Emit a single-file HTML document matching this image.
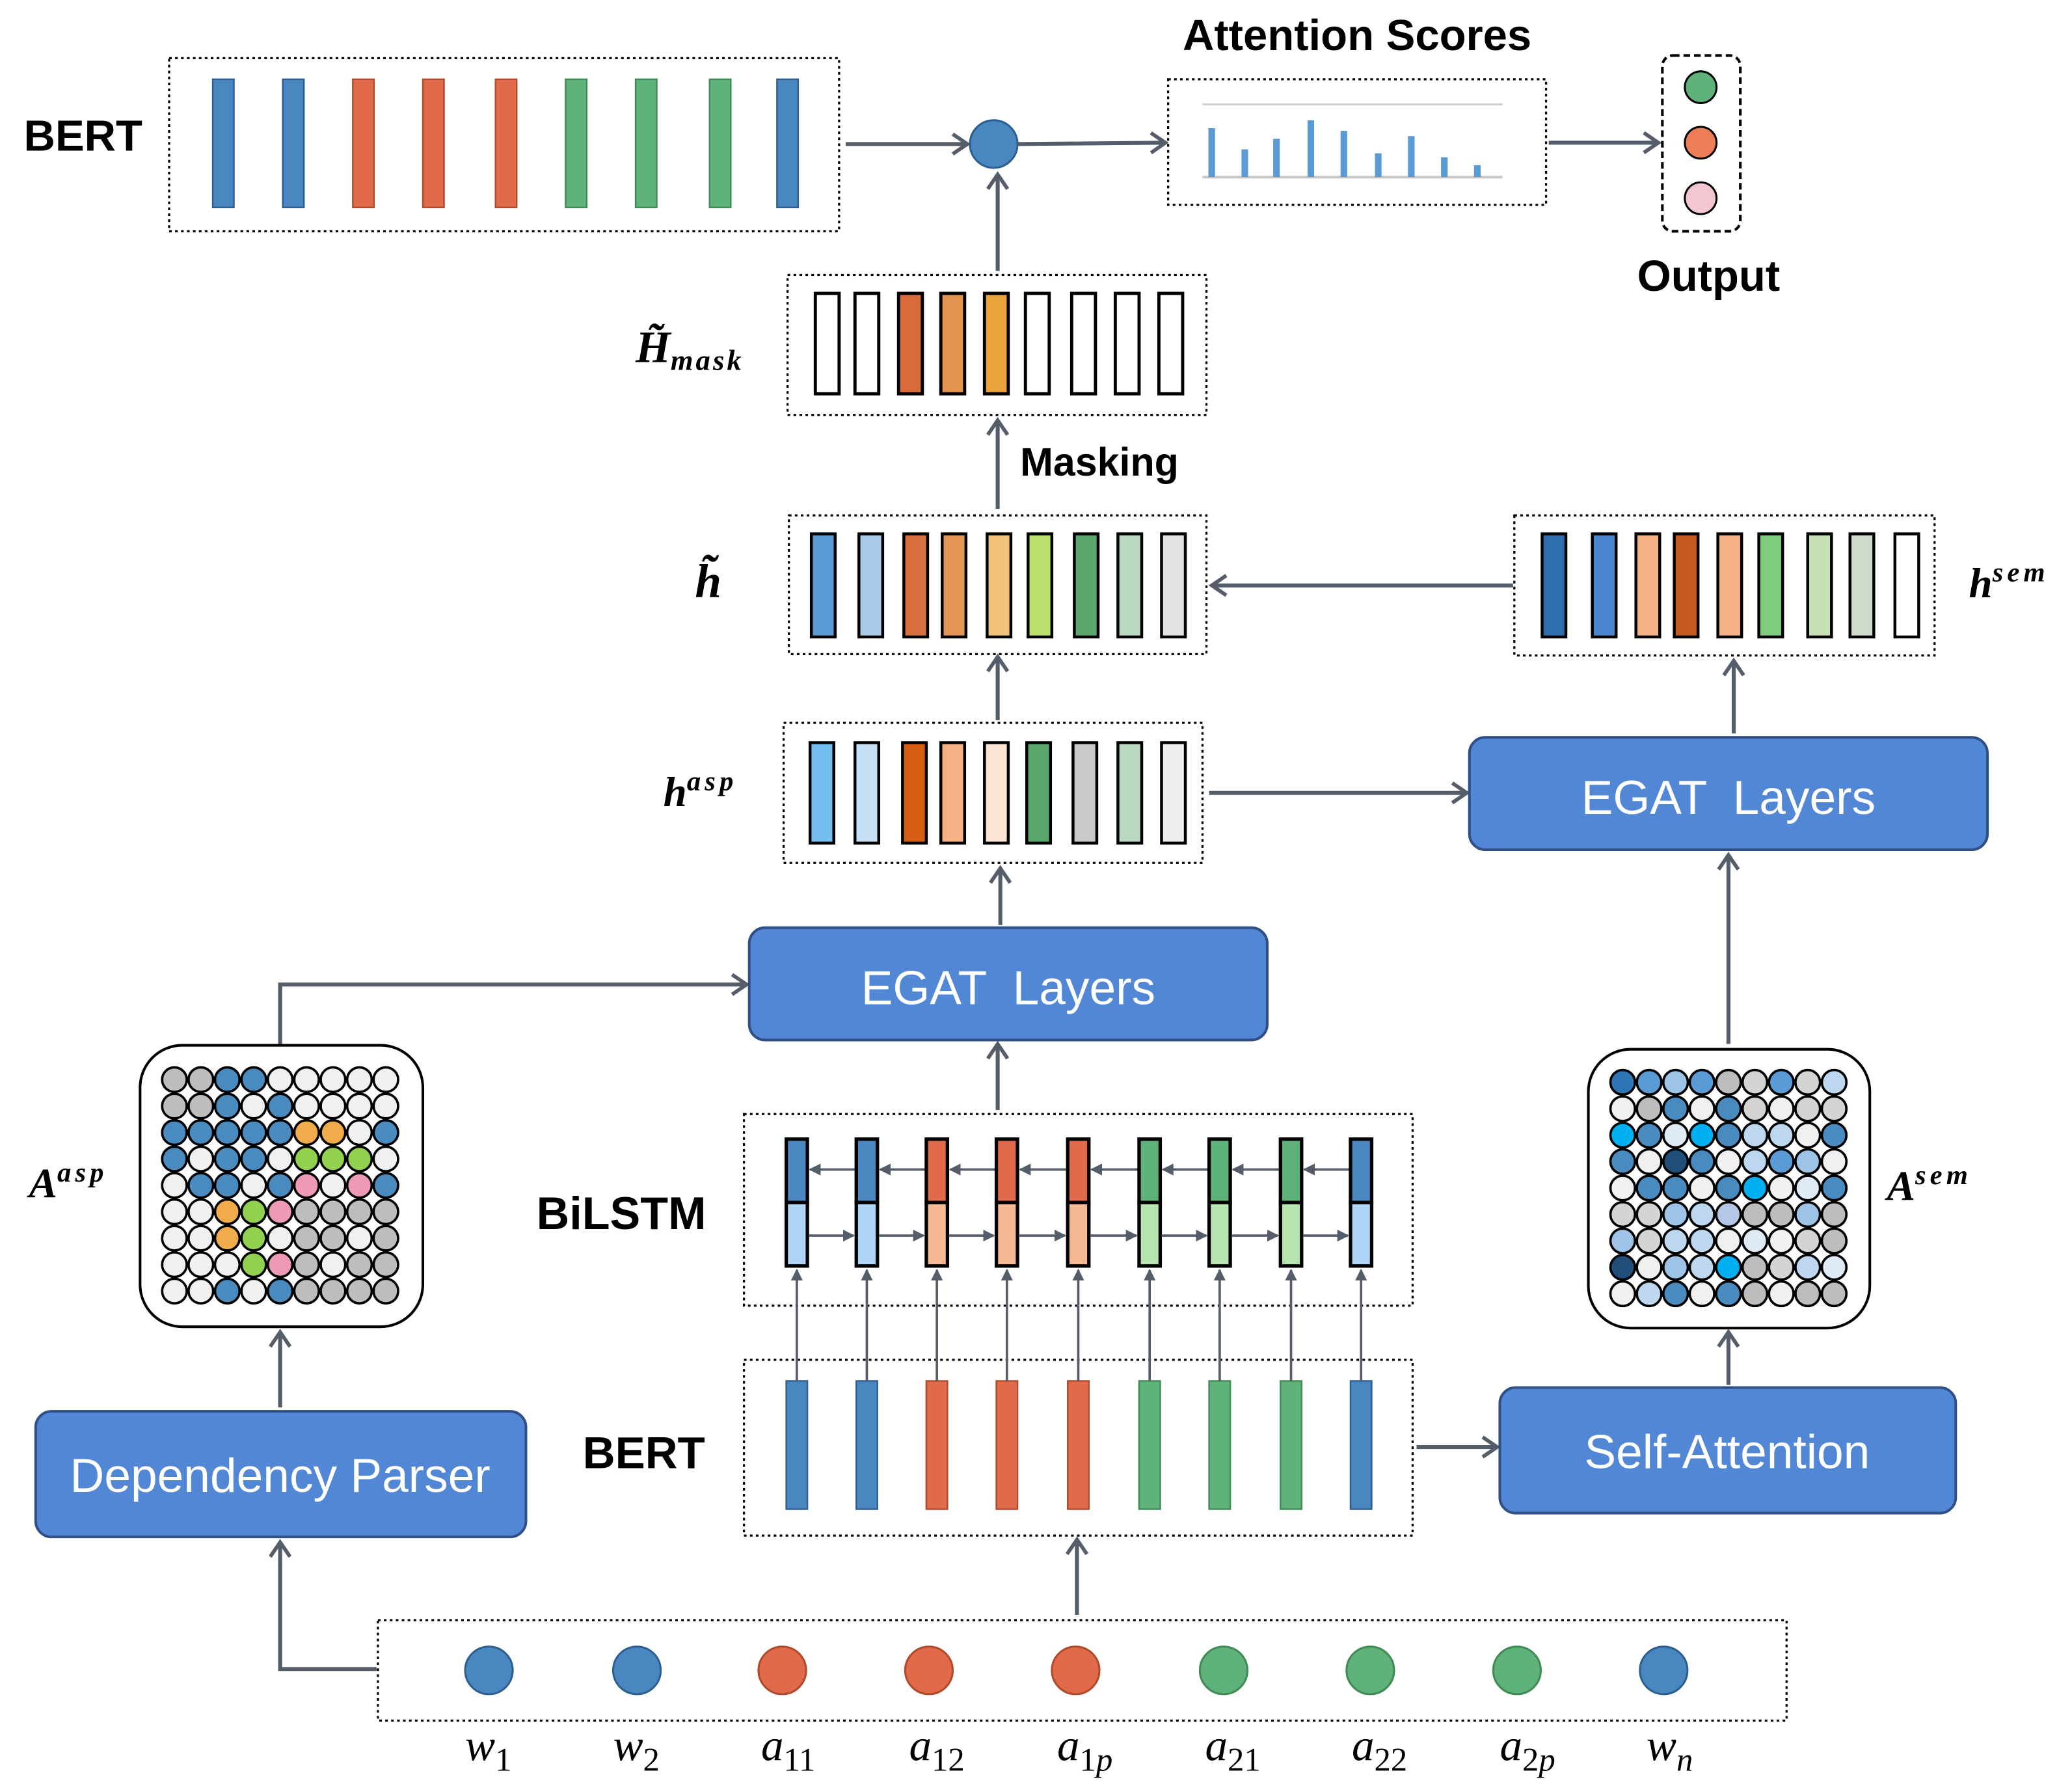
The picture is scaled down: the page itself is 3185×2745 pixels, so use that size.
<!DOCTYPE html>
<html><head><meta charset="utf-8"><style>
html,body{margin:0;padding:0;background:#fff;width:3185px;height:2745px;overflow:hidden}
svg{display:block}
.t{font-family:"Liberation Sans",sans-serif;font-weight:bold;fill:#000}
.m{font-family:"Liberation Serif",serif;font-style:italic;font-weight:bold;fill:#000}
.w{font-family:"Liberation Serif",serif;font-style:italic;fill:#000;font-size:34px}
.sub{font-style:normal}
.bt{font-family:"Liberation Sans",sans-serif;fill:#fff;font-size:36px;white-space:pre}
.dot{fill:none;stroke:#000;stroke-width:1.6;stroke-dasharray:2 2.5}
.ar{stroke:#555c6a;stroke-width:3;fill:none;marker-end:url(#open)}
.sa{stroke:#555c6a;stroke-width:1.8;fill:none;marker-end:url(#fill)}
.btn{fill:#5287d6;stroke:#2f4f86;stroke-width:2}
</style></head><body>
<svg id="s" width="3185" height="2745" viewBox="0 0 1568 1351.5" preserveAspectRatio="none" xmlns="http://www.w3.org/2000/svg">
<defs>
<marker id="open" markerWidth="16" markerHeight="18" refX="13" refY="9" orient="auto" markerUnits="userSpaceOnUse" viewBox="0 0 16 18">
<path d="M2,1.5 L13,9 L2,16.5" fill="none" stroke="#555c6a" stroke-width="2.8"/></marker>
<marker id="fill" markerWidth="9" markerHeight="9" refX="8" refY="4.5" orient="auto" markerUnits="userSpaceOnUse" viewBox="0 0 9 9">
<path d="M0,0 L9,4.5 L0,9 Z" fill="#555c6a"/></marker>
</defs>
<g id="g"></g>

<text class="t" x="18" y="114" font-size="33">BERT</text>
<text class="t" x="1027" y="38" font-size="33" text-anchor="middle">Attention Scores</text>
<text class="t" x="1293" y="220" font-size="33" text-anchor="middle">Output</text>
<text class="t" x="772" y="360" font-size="30">Masking</text>
<text class="t" x="406" y="930" font-size="34.5">BiLSTM</text>
<text class="t" x="441" y="1111" font-size="34">BERT</text>

<text class="m" x="481" y="274" font-size="34">H̃<tspan font-size="22" dy="6" letter-spacing="2">mask</tspan></text>
<text class="m" x="526" y="452" font-size="36">h̃</text>
<text class="m" x="502" y="610" font-size="32">h<tspan font-size="21" dy="-12" letter-spacing="3">asp</tspan></text>
<text class="m" x="1490" y="452" font-size="32">h<tspan font-size="21" dy="-12" letter-spacing="3">sem</tspan></text>
<text class="m" x="22" y="906" font-size="32">A<tspan font-size="21" dy="-12" letter-spacing="3">asp</tspan></text>
<text class="m" x="1428" y="908" font-size="32">A<tspan font-size="21" dy="-12" letter-spacing="3">sem</tspan></text>

<rect class="btn" x="1112" y="558" width="392" height="85" rx="12"/>
<text class="bt" x="1308" y="616" text-anchor="middle" font-size="38" xml:space="preserve">EGAT  Layers</text>
<rect class="btn" x="567" y="702" width="392" height="85" rx="12"/>
<text class="bt" x="763" y="760" text-anchor="middle" font-size="38" xml:space="preserve">EGAT  Layers</text>
<rect class="btn" x="27" y="1068" width="371" height="95" rx="12"/>
<text class="bt" x="212" y="1129" text-anchor="middle" font-size="35">Dependency Parser</text>
<rect class="btn" x="1135" y="1050" width="345" height="95" rx="12"/>
<text class="bt" x="1307" y="1111" text-anchor="middle" font-size="35">Self-Attention</text>

<text class="w" x="352" y="1332">w<tspan class="sub" font-size="25" dy="8">1</tspan></text>
<text class="w" x="464" y="1332">w<tspan class="sub" font-size="25" dy="8">2</tspan></text>
<text class="w" x="576" y="1332">a<tspan class="sub" font-size="25" dy="8">11</tspan></text>
<text class="w" x="688" y="1332">a<tspan class="sub" font-size="25" dy="8">12</tspan></text>
<text class="w" x="800" y="1332">a<tspan class="sub" font-size="25" dy="8">1</tspan><tspan font-size="25">p</tspan></text>
<text class="w" x="912" y="1332">a<tspan class="sub" font-size="25" dy="8">21</tspan></text>
<text class="w" x="1023" y="1332">a<tspan class="sub" font-size="25" dy="8">22</tspan></text>
<text class="w" x="1135" y="1332">a<tspan class="sub" font-size="25" dy="8">2</tspan><tspan font-size="25">p</tspan></text>
<text class="w" x="1246" y="1332">w<tspan font-size="25" dy="8">n</tspan></text>
</svg>
<script>
var g=document.getElementById('g'),NS='http://www.w3.org/2000/svg';
function el(t,a){var e=document.createElementNS(NS,t);for(var k in a)e.setAttribute(k,a[k]);g.appendChild(e);return e;}
function rect(x,y,w,h,f,sw,cls){var a={x:x,y:y,width:w,height:h,fill:f||'none',stroke:'#000','stroke-width':sw||1.5};if(cls)a['class']=cls;return el('rect',a);}
function dot(x1,y1,x2,y2){el('rect',{x:x1,y:y1,width:x2-x1,height:y2-y1,'class':'dot'});}
function ar(pts,c){el('polyline',{points:pts,'class':c||'ar'});}
var B='#4a86bf',O='#e06a4a',G='#5fb27a';
function sk(c){return c==B?'#2c5f8f':(c==O?'#b04a2c':'#3f8a55');}
var cols9=[B,B,O,O,O,G,G,G,B];
dot(128,44,635,175);
[169,222,275,328,383,436,489,545,596].forEach(function(x,i){rect(x-8,60,16,97,cols9[i],1.2).setAttribute('stroke',sk(cols9[i]));});
ar('640,109 732,109');
el('circle',{cx:752,cy:109,r:18,fill:B,stroke:'#2c5f8f','stroke-width':1.5});
ar('770,109 882,108');
dot(884,60,1170,155);
el('line',{x1:910,y1:79,x2:1137,y2:79,stroke:'#d0d0d0','stroke-width':1.5});
el('line',{x1:910,y1:134,x2:1137,y2:134,stroke:'#c8c8c8','stroke-width':2});
[[917,97],[942,113],[966,105],[992,91],[1017,99],[1043,116],[1068,103],[1093,119],[1118,125]].forEach(function(p){el('rect',{x:p[0]-2.5,y:p[1],width:5,height:134-p[1],fill:'#5b9bd5'});});
ar('1172,108 1255,108');
el('rect',{x:1258,y:42,width:59,height:133,rx:8,fill:'none',stroke:'#000','stroke-width':2,'stroke-dasharray':'5 3'});
[[66,G],[108,'#ec7d57'],[150,'#f4c6cf']].forEach(function(p){el('circle',{cx:1287,cy:p[0],r:12,fill:p[1],stroke:'#000','stroke-width':1.5});});
ar('755,205 755,132');
dot(596,208,913,314);
var hx=[626,656,689,721,754,785,820,853,886],hc=['#fff','#fff','#d96b3a','#e3944f','#e8a33a','#fff','#fff','#fff','#fff'];
hx.forEach(function(x,i){rect(x-9,222,18,76,hc[i],2.4);});
ar('755,385 755,318');
dot(597,390,913,495);
var tx=[623,659,693,722,756,787,822,855,888],tc=['#5b9bd5','#a9c9ea','#d9703f','#e39656','#f2c27a','#b8e06a','#5aa86e','#b8d8c0','#e3e3e3'];
tx.forEach(function(x,i){rect(x-9,404,18,78,tc[i],2.2);});
ar('1145,443 917,443');
dot(1146,390,1464,496);
var sx=[1176,1214,1247,1276,1309,1340,1377,1409,1443],sc=['#2f6eae','#4a86d0','#f4b183','#c65a1e','#f4b183','#7fcc7f','#c5e0b4','#d0dccb','#fff'];
sx.forEach(function(x,i){rect(x-9,404,18,78,sc[i],2.2);});
ar('1312,555 1312,500');
ar('755,545 755,497');
dot(593,547,910,653);
var ax=[622,656,692,721,754,786,821,855,888],ac=['#74bff0','#c5dff5','#d55e12','#f4b183','#fde5d6','#5aa86e','#c9c9c9','#b8d8c0','#efefef'];
ax.forEach(function(x,i){rect(x-9,562,18,76,ac[i],2.2);});
ar('915,600 1110,600');
ar('1308,790 1308,647');
ar('757,700 757,657');
ar('212,790 212,745 565,745');
function mat(x0,y0,rows,map){rows.forEach(function(r,j){r.split(' ').forEach(function(c,i){el('circle',{cx:x0+i*20,cy:y0+j*20,r:9.3,fill:map[c],stroke:'#000','stroke-width':1.8});});});}
el('rect',{x:106,y:791,width:214,height:213,rx:32,fill:'#fff',stroke:'#000','stroke-width':2});
mat(132,817,['G G B B W W W W W','G G B W B W W W W','B B B B B O O W B','B W B B W L L L W','W B B W B P W P B','W W O L P G G G G','W W O L W G G W G','W W W L P G W G G','W W B W B G G G G'],
{G:'#bdbdbd',B:'#4a8bbf',W:'#f0f0f0',O:'#f0ac4a',L:'#92d050',P:'#ef9ab4'});
el('rect',{x:1202,y:794,width:213,height:211,rx:32,fill:'#fff',stroke:'#000','stroke-width':2});
mat(1228,819,['D M b M G g M g l','W G m W m g W g g','c m e c m l l W m','m W N m W l M b W','W m m W m c W e m','g g b l p G G b G','b g l l W e W g G','N W b l c G g l e','W l m W m G W G G'],
{D:'#2e75b6',M:'#5b9bd5',b:'#9dc3e6',m:'#4a8bbf',G:'#bdbdbd',g:'#d4d4d4',W:'#f0f0f0',c:'#00b0f0',l:'#bdd7ee',N:'#1f4e79',e:'#deebf7',p:'#b4c7e7'});
ar('212,1065 212,1008');
ar('285,1263 212,1263 212,1167');
dot(286,1226,1352,1302);
[370,482,592,703,814,926,1037,1148,1259].forEach(function(x,i){el('circle',{cx:x,cy:1264,r:18,fill:cols9[i],stroke:sk(cols9[i]),'stroke-width':1.5});});
ar('815,1222 815,1165');
dot(563,1029,1069,1162);
var bx=[603,656,709,762,816,870,923,977,1030];
bx.forEach(function(x,i){rect(x-8,1045,16,97,cols9[i],1.2).setAttribute('stroke',sk(cols9[i]));});
ar('1072,1095 1133,1095');
ar('1308,1048 1308,1008');
dot(563,843,1069,988);
var lb=['#aed4f7','#aed4f7','#f4b893','#f4b893','#f4b893','#b6e3ae','#b6e3ae','#b6e3ae','#aed4f7'];
bx.forEach(function(x,i){
 el('line',{x1:x,y1:1045,x2:x,y2:961,stroke:'#555c6a','stroke-width':1.8,'marker-end':'url(#fill)'});
 rect(x-8,862,16,48,cols9[i],2.6);rect(x-8,910,16,48,lb[i],2.6);
 if(i<8){var n=bx[i+1];
  el('line',{x1:n-9,y1:885,x2:x+10,y2:885,'class':'sa'});
  el('line',{x1:x+9,y1:935,x2:n-10,y2:935,'class':'sa'});}
});
ar('755,840 755,790');
</script>
</body></html>
